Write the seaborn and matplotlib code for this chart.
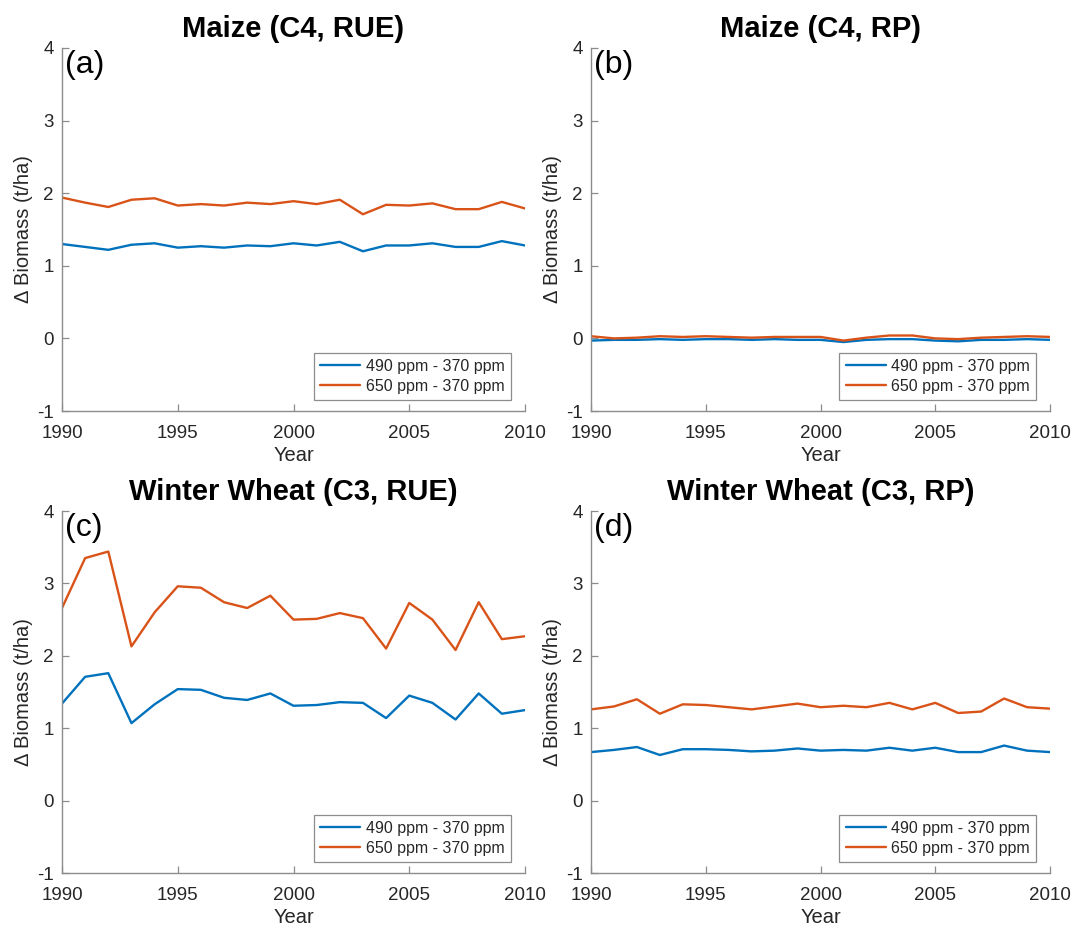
import numpy as np
import pandas as pd
import matplotlib
matplotlib.use("Agg")
import matplotlib.pyplot as plt
import seaborn as sns

years = list(range(1990, 2011))

# Maize (C4, RUE)
maize_rue_490 = [1.30, 1.26, 1.22, 1.29, 1.31, 1.25, 1.27, 1.25, 1.28, 1.27, 1.31,
                 1.28, 1.33, 1.20, 1.28, 1.28, 1.31, 1.26, 1.26, 1.34, 1.28]
maize_rue_650 = [1.94, 1.87, 1.81, 1.91, 1.93, 1.83, 1.85, 1.83, 1.87, 1.85, 1.89,
                 1.85, 1.91, 1.71, 1.84, 1.83, 1.86, 1.78, 1.78, 1.88, 1.79]
# Maize (C4, RP)
maize_rp_490 = [-0.03, -0.02, -0.02, -0.01, -0.02, -0.01, -0.01, -0.02, -0.01, -0.02, -0.02,
                -0.05, -0.02, -0.01, -0.01, -0.03, -0.04, -0.02, -0.02, -0.01, -0.02]
maize_rp_650 = [0.03, 0.00, 0.01, 0.03, 0.02, 0.03, 0.02, 0.01, 0.02, 0.02, 0.02,
                -0.03, 0.01, 0.04, 0.04, 0.00, -0.01, 0.01, 0.02, 0.03, 0.02]
# Winter Wheat (C3, RUE)
wheat_rue_490 = [1.34, 1.71, 1.76, 1.07, 1.33, 1.54, 1.53, 1.42, 1.39, 1.48, 1.31,
                 1.32, 1.36, 1.35, 1.14, 1.45, 1.35, 1.12, 1.48, 1.20, 1.25]
wheat_rue_650 = [2.66, 3.35, 3.44, 2.13, 2.60, 2.96, 2.94, 2.74, 2.66, 2.83, 2.50,
                 2.51, 2.59, 2.52, 2.10, 2.73, 2.50, 2.08, 2.74, 2.23, 2.27]
# Winter Wheat (C3, RP)
wheat_rp_490 = [0.67, 0.70, 0.74, 0.63, 0.71, 0.71, 0.70, 0.68, 0.69, 0.72, 0.69,
                0.70, 0.69, 0.73, 0.69, 0.73, 0.67, 0.67, 0.76, 0.69, 0.67]
wheat_rp_650 = [1.26, 1.30, 1.40, 1.20, 1.33, 1.32, 1.29, 1.26, 1.30, 1.34, 1.29,
                1.31, 1.29, 1.35, 1.26, 1.35, 1.21, 1.23, 1.41, 1.29, 1.27]

titles = ["Maize (C4, RUE)", "Maize (C4, RP)",
          "Winter Wheat (C3, RUE)", "Winter Wheat (C3, RP)"]
panel_tags = ["(a)", "(b)", "(c)", "(d)"]
series_names = ["490 ppm - 370 ppm", "650 ppm - 370 ppm"]
panels = [(maize_rue_490, maize_rue_650), (maize_rp_490, maize_rp_650),
          (wheat_rue_490, wheat_rue_650), (wheat_rp_490, wheat_rp_650)]

sns.set_theme(style="white")
plt.rcParams["font.family"] = ["Liberation Sans", "DejaVu Sans"]
plt.rcParams["axes.unicode_minus"] = False

palette = {series_names[0]: "#0072BD", series_names[1]: "#D95319"}
axis_gray = "#8c8c8c"
text_dark = "#262626"

fig = plt.figure(figsize=(10.74, 9.26), dpi=100)
W, H = 1074, 926
boxes = [(62, 48, 525, 411), (591, 48, 1050, 411),
         (62, 511, 525, 873), (591, 511, 1050, 873)]

for (l, t, r, b), title, tag, (s490, s650) in zip(boxes, titles, panel_tags, panels):
    ax = fig.add_axes([l / W, 1 - b / H, (r - l) / W, (b - t) / H])
    df = pd.DataFrame({
        "Year": years * 2,
        "value": list(s490) + list(s650),
        "series": [series_names[0]] * len(years) + [series_names[1]] * len(years),
    })
    sns.lineplot(data=df, x="Year", y="value", hue="series", palette=palette,
                 linewidth=1.7, ax=ax, legend=False)
    ax.set_xlim(1990, 2010)
    ax.set_ylim(-1, 4)
    ax.set_xticks([1990, 1995, 2000, 2005, 2010])
    ax.set_yticks([-1, 0, 1, 2, 3, 4])
    for side in ("top", "right"):
        ax.spines[side].set_visible(False)
    for side in ("left", "bottom"):
        ax.spines[side].set_color(axis_gray)
        ax.spines[side].set_linewidth(1.0)
    ax.tick_params(direction="in", length=5, width=0.9, color=axis_gray,
                   labelsize=13.5, labelcolor=text_dark, left=True, bottom=True)
    ax.tick_params(axis="x", pad=10)
    ax.tick_params(axis="y", pad=6)
    ax.set_xlabel("Year", fontsize=14.5, color=text_dark, labelpad=3)
    ax.set_ylabel("Δ Biomass (t/ha)", fontsize=14.5, color=text_dark, labelpad=3)
    ax.set_title(title, fontsize=21, fontweight="bold", color="black", pad=8)
    ax.text(0.006, 0.995, tag, transform=ax.transAxes, fontsize=23,
            va="top", ha="left", color="black")
    handles = [plt.Line2D([], [], color=palette[n], linewidth=1.7) for n in series_names]
    leg = ax.legend(handles, series_names, loc="lower right",
                    bbox_to_anchor=(0.97, 0.03), fontsize=11.5, frameon=True,
                    fancybox=False, edgecolor=axis_gray, framealpha=1,
                    handlelength=2.5, handletextpad=0.35, borderpad=0.4,
                    labelspacing=0.3, borderaxespad=0)
    leg.get_frame().set_linewidth(0.9)

fig.savefig("out.png", dpi=100, facecolor="white")
